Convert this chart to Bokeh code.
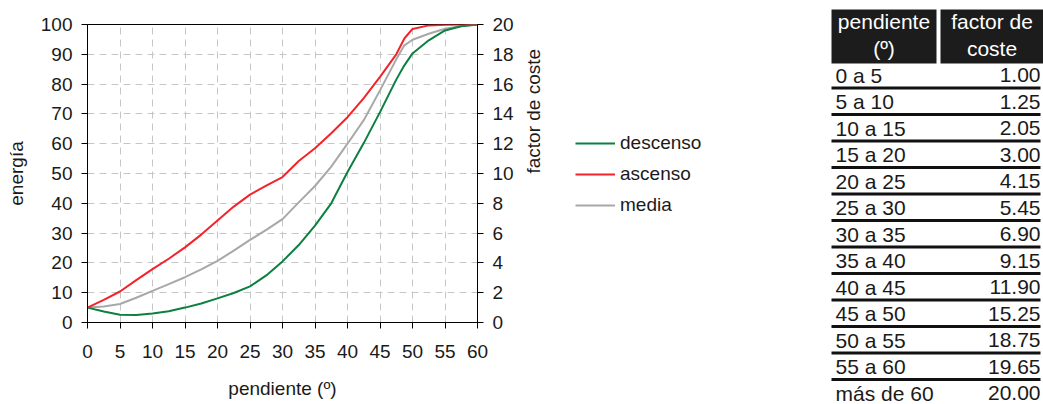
import math
from bokeh.plotting import figure
from bokeh.models import Range1d, LinearAxis, Legend, LegendItem, FixedTicker, ColumnDataSource
from bokeh.layouts import row
from bokeh.embed import file_html
from bokeh.resources import INLINE
from bokeh.core.properties import value

# ---------------- data ----------------
pendiente = [0, 2.5, 5, 7.5, 10, 12.5, 15, 17.5, 20, 22.5, 25, 27.5, 30, 32.5,
             35, 37.5, 40, 42.5, 45, 47.5, 48.75, 50, 52.5, 55, 57.5, 60]
descenso = [5.0, 3.7, 2.6, 2.5, 3.0, 3.8, 5.0, 6.4, 8.1, 9.9, 12.1, 15.8, 20.5, 26.0,
            32.5, 40.0, 50.5, 60.2, 70.6, 81.5, 86.3, 90.3, 94.7, 98.0, 99.4, 100.0]
ascenso = [5.0, 7.6, 10.4, 14.2, 17.9, 21.4, 25.2, 29.5, 34.2, 38.9, 42.9, 45.9, 48.8, 54.2,
           58.5, 63.5, 68.9, 75.3, 82.4, 90.0, 95.3, 98.5, 99.7, 99.9, 100.0, 100.0]
media = [5.0, 5.4, 6.2, 8.3, 10.6, 12.9, 15.2, 17.8, 20.7, 24.1, 27.7, 31.1, 34.7, 40.3,
         45.8, 52.3, 60.0, 67.9, 77.9, 88.3, 93.0, 94.9, 96.9, 98.6, 99.5, 100.0]
series = ["descenso", "ascenso", "media"]

x_ticks = list(range(0, 61, 5))
y_ticks = list(range(0, 101, 10))
coste_ticks = list(range(0, 21, 2))

rangos = ["0 a 5", "5 a 10", "10 a 15", "15 a 20", "20 a 25", "25 a 30", "30 a 35",
          "35 a 40", "40 a 45", "45 a 50", "50 a 55", "55 a 60", "más de 60"]
factor = [1.00, 1.25, 2.05, 3.00, 4.15, 5.45, 6.90, 9.15, 11.90, 15.25, 18.75, 19.65, 20.00]
encabezados = ["pendiente\n(º)", "factor de\ncoste"]

# ---------------- style ----------------
FONT = "Liberation Sans"
TXT = "#1a1a1a"
GREEN = "#0b8040"
RED = "#f2242a"
GRAY = "#a8a8a8"
COLORS = [GREEN, RED, GRAY]
H = 404

# ---------------- chart ----------------
p = figure(width=560, height=H, x_range=Range1d(0, 60), y_range=Range1d(0, 100),
           output_backend="svg", toolbar_location=None,
           min_border_left=87, min_border_right=83, min_border_top=24, min_border_bottom=82)
p.frame_align = False
p.outline_line_color = "black"
p.outline_line_width = 1
p.background_fill_color = "white"
p.border_fill_color = "white"

for g, tk in ((p.xgrid, x_ticks), (p.ygrid, y_ticks)):
    g.ticker = FixedTicker(ticks=tk)
    g.grid_line_color = "#c6c6c6"
    g.grid_line_dash = "7 5"
    g.grid_line_width = 1

p.xaxis.ticker = FixedTicker(ticks=x_ticks)
p.yaxis.ticker = FixedTicker(ticks=y_ticks)
p.xaxis.axis_label = "pendiente (º)"
p.yaxis.axis_label = "energía"

p.extra_y_ranges = {"coste": Range1d(0, 20)}
ax2 = LinearAxis(y_range_name="coste", axis_label="factor de coste",
                 ticker=FixedTicker(ticks=coste_ticks))
ax2.axis_label_orientation = math.pi / 2
p.add_layout(ax2, "right")

for a in (p.xaxis[0], p.yaxis[0], ax2):
    a.axis_line_color = "black"
    a.major_tick_line_color = "black"
    a.major_tick_in = 0
    a.major_tick_out = 6
    a.minor_tick_line_color = None
    a.major_label_text_font = FONT
    a.major_label_text_font_size = "19px"
    a.major_label_text_color = TXT
    a.axis_label_text_font = FONT
    a.axis_label_text_font_size = "19px"
    a.axis_label_text_font_style = "normal"
    a.axis_label_text_color = TXT
    a.major_label_standoff = 9

p.yaxis[0].axis_label_standoff = 11
p.xaxis[0].major_label_standoff = 16
p.xaxis[0].axis_label_standoff = 17
ax2.axis_label_standoff = 17

src = ColumnDataSource(dict(x=pendiente, d=descenso, a=ascenso, m=media))
p.line("x", "m", source=src, line_color=GRAY, line_width=2)
p.line("x", "d", source=src, line_color=GREEN, line_width=2)
p.line("x", "a", source=src, line_color=RED, line_width=2)

# ---------------- legend (own panel, its lines kept outside its view) ----------------
lg = figure(width=240, height=H, x_range=Range1d(-2, -1), y_range=Range1d(-2, -1),
            output_backend="svg", toolbar_location=None,
            min_border=0, min_border_left=0, min_border_right=0,
            min_border_top=0, min_border_bottom=0)
lg.frame_align = False
lg.xaxis.visible = False
lg.yaxis.visible = False
lg.grid.visible = False
lg.outline_line_color = None
lg.background_fill_color = "white"
lg.border_fill_color = "white"
items = []
for name, col, fld in zip(series, COLORS, ["d", "a", "m"]):
    r = lg.line("x", fld, source=src, line_color=col, line_width=2)
    items.append(LegendItem(label=name, renderers=[r]))
legend = Legend(items=items, location=(15, 188))
legend.label_text_font = FONT
legend.label_text_font_size = "19px"
legend.label_text_color = TXT
legend.glyph_width = 40
legend.glyph_height = 22
legend.label_standoff = 5
legend.spacing = 9
legend.padding = 0
legend.margin = 0
legend.border_line_color = None
legend.background_fill_alpha = 0
lg.add_layout(legend, "center")

# ---------------- table ----------------
PITCH = 26.5
ROW0 = 74.5  # px from figure top to centre of first row
t = figure(width=243, height=H, x_range=Range1d(0, 243),
           y_range=Range1d((H - ROW0) / PITCH, -ROW0 / PITCH),
           output_backend="svg", toolbar_location=None,
           min_border=0, min_border_left=0, min_border_right=0,
           min_border_top=0, min_border_bottom=0)
t.frame_align = False
t.xaxis.visible = False
t.yaxis.visible = False
t.grid.visible = False
t.outline_line_color = None
t.background_fill_color = "white"
t.border_fill_color = "white"

hdr_top = (9 - ROW0) / PITCH
hdr_bot = (63 - ROW0) / PITCH
hdr_txt = (34.5 - ROW0) / PITCH
col_l = [31, 140]
col_r = [136, 243]
t.quad(left=col_l, right=col_r, top=[hdr_top] * 2, bottom=[hdr_bot] * 2,
       fill_color="#1c1c1c", line_color=None)
t.text(x=[(l + r) / 2 for l, r in zip(col_l, col_r)], y=[hdr_txt] * 2,
       text=encabezados, text_font=value(FONT), text_font_size="21px",
       text_color="white", text_align="center", text_baseline="middle",
       text_line_height=1.15)

idx = list(range(len(rangos)))
t.text(x=[35] * len(rangos), y=idx, text=rangos, text_font=value(FONT),
       text_font_size="21px", text_color=TXT, text_align="left", text_baseline="middle")
t.text(x=[240] * len(factor), y=idx, text=["%.2f" % f for f in factor],
       text_font=value(FONT), text_font_size="21px", text_color=TXT,
       text_align="right", text_baseline="middle")
sep = [i + 0.49 for i in idx[:-1]]
t.segment(x0=[31] * len(sep), x1=[240] * len(sep), y0=sep, y1=sep,
          line_color="#111111", line_width=3)

layout = row(p, lg, t)
open("out.html", "w").write(file_html(layout, INLINE))
